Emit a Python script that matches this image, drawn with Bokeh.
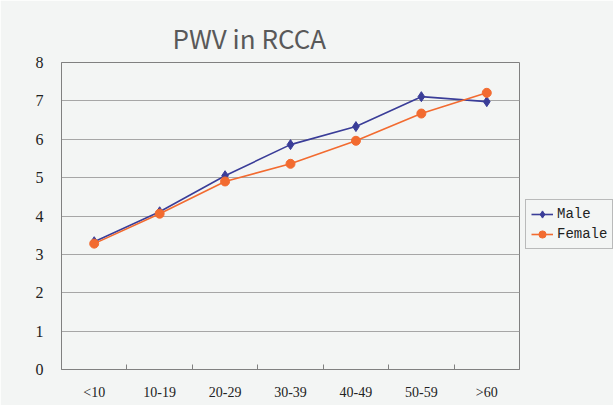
import numpy as np
from bokeh.plotting import figure
from bokeh.models import FixedTicker, Legend, LegendItem, Title, ColumnDataSource
from bokeh.embed import file_html
from bokeh.resources import INLINE

categories = ["<10", "10-19", "20-29", "30-39", "40-49", "50-59", ">60"]
male = [3.33, 4.11, 5.05, 5.86, 6.33, 7.11, 6.98]
female = [3.28, 4.06, 4.90, 5.36, 5.96, 6.67, 7.21]
y_ticks = [0, 1, 2, 3, 4, 5, 6, 7, 8]

BG = "#f3f5f4"
xpos = np.arange(len(categories)) + 0.5

p = figure(frame_width=458, frame_height=307, x_range=(0, len(categories)), y_range=(0, 8),
           output_backend="svg", toolbar_location=None,
           min_border_left=61, min_border_right=0, min_border_top=62, min_border_bottom=36,
           background_fill_color=BG, border_fill_color=BG)
p.title = None

t = Title(text="PWV in RCCA", align="left", offset=111, text_font="Noto Sans CJK JP",
          text_font_size="26px", text_font_style="normal", text_color="#595959", standoff=14)
p.add_layout(t, "above")

p.outline_line_color = "#808080"
p.outline_line_width = 1

# y axis
p.yaxis.ticker = FixedTicker(ticks=y_ticks)
p.yaxis.major_tick_line_color = None
p.yaxis.minor_tick_line_color = None
p.yaxis.axis_line_color = "#808080"
p.yaxis.major_label_text_font = "Liberation Serif"
p.yaxis.major_label_text_font_size = "16px"
p.yaxis.major_label_text_color = "#222222"
p.yaxis.major_label_standoff = 12

# x axis
p.xaxis.ticker = FixedTicker(ticks=list(xpos), minor_ticks=list(range(1, len(categories))))
p.xaxis.major_label_overrides = {float(x): c for x, c in zip(xpos, categories)}
p.xaxis.major_tick_line_color = None
p.xaxis.minor_tick_line_color = "#808080"
p.xaxis.minor_tick_in = 5
p.xaxis.minor_tick_out = 0
p.xaxis.axis_line_color = "#808080"
p.xaxis.major_label_text_font = "Liberation Serif"
p.xaxis.major_label_text_font_size = "14px"
p.xaxis.major_label_text_color = "#222222"
p.xaxis.major_label_standoff = 9

p.xgrid.grid_line_color = None
p.ygrid.ticker = FixedTicker(ticks=y_ticks)
p.ygrid.grid_line_color = "#a6a6a6"
p.ygrid.grid_line_width = 1

src = ColumnDataSource(dict(x=xpos, male=male, female=female))
MC = "#3a3d98"
FC = "#f26b30"
lm = p.line("x", "male", source=src, line_color=MC, line_width=1.6)
sm = p.scatter("x", "male", source=src, marker="diamond", size=10, fill_color=MC, line_color=MC)
lf = p.line("x", "female", source=src, line_color=FC, line_width=1.6)
sf = p.scatter("x", "female", source=src, marker="circle", size=9, fill_color=FC, line_color=FC)

legend = Legend(items=[LegendItem(label="Male", renderers=[lm, sm]),
                       LegendItem(label="Female", renderers=[lf, sf])],
                location=(6, 120), orientation="vertical",
                label_text_font="Liberation Mono", label_text_font_size="14px",
                label_text_color="#222222",
                glyph_width=22, glyph_height=18, label_height=18, label_standoff=4,
                padding=5, spacing=2, margin=0,
                border_line_color="#808080", border_line_width=1,
                background_fill_color=BG, background_fill_alpha=1)
p.add_layout(legend, "right")
p.min_border_right = 94

html = file_html(p, INLINE)
html = html.replace("<body>", '<body style="background:%s;">' % BG, 1)
open("out.html", "w").write(html)
